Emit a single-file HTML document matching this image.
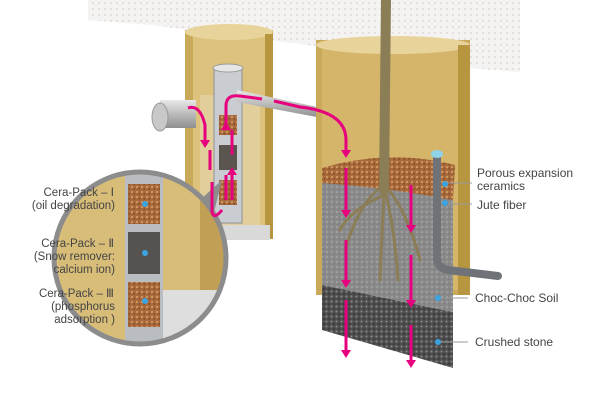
<!DOCTYPE html>
<html><head><meta charset="utf-8"><style>
html,body{margin:0;padding:0;background:#fff;}
svg{display:block;font-family:"Liberation Sans",sans-serif;}
</style></head><body>
<svg width="600" height="420" viewBox="0 0 600 420">
<defs>
<pattern id="grid" width="6" height="6" patternUnits="userSpaceOnUse"><rect width="6" height="6" fill="#f4f3f2"/><circle cx="3" cy="3" r="0.7" fill="#c9c4c1"/></pattern>
<pattern id="gravel" width="5" height="5" patternUnits="userSpaceOnUse"><rect width="5" height="5" fill="#4e4e4e"/><circle cx="1.5" cy="1.5" r="1" fill="#8a8a8a"/><circle cx="4" cy="4" r="0.8" fill="#2a2a2a"/></pattern>
<pattern id="soil" width="5" height="5" patternUnits="userSpaceOnUse"><rect width="5" height="5" fill="#8a8a8a"/><circle cx="2" cy="2" r="0.8" fill="#b5b5b5"/><circle cx="4" cy="4" r="0.6" fill="#6d6d6d"/></pattern>
<pattern id="porous" width="5" height="5" patternUnits="userSpaceOnUse"><rect width="5" height="5" fill="#a9693a"/><circle cx="2" cy="2" r="1" fill="#d8a46c"/><circle cx="4.2" cy="4" r="0.7" fill="#6e3e1e"/></pattern>
<linearGradient id="pipeG" x1="0" y1="0" x2="0" y2="1"><stop offset="0" stop-color="#e8e8e8"/><stop offset="1" stop-color="#8e8e8e"/></linearGradient>
<clipPath id="lens"><circle cx="140" cy="258" r="86"/></clipPath>
</defs>
<polygon points="88,0 520,0 520,72 470,68 300,44 150,25 88,20" fill="url(#grid)"/>
<g>
<rect x="185" y="30" width="88" height="205" fill="#c9a95a"/>
<rect x="193" y="34" width="72" height="200" fill="#dcc27d"/>
<ellipse cx="229" cy="32" rx="44" ry="8" fill="#e8d49b"/>
<rect x="265" y="34" width="8" height="205" fill="#b8963f"/>
<rect x="200" y="95" width="60" height="140" fill="#e2d3a8" opacity="0.7"/>
<rect x="222" y="225" width="48" height="15" fill="#d9d9d9"/>
<rect x="214" y="68" width="28" height="155" fill="#c9ccd0" stroke="#8d9196"/>
<rect x="219" y="115" width="18" height="20" fill="url(#porous)"/>
<rect x="219" y="145" width="18" height="25" fill="#5b554f"/>
<rect x="219" y="180" width="18" height="25" fill="url(#porous)"/>
<ellipse cx="228" cy="68" rx="15" ry="4" fill="#e6e6e6" stroke="#999"/>
</g>
<polygon points="237,90 322,108 322,118 237,102" fill="url(#pipeG)"/>
<ellipse cx="320" cy="113" rx="3" ry="6" fill="#e1c97a"/>
<g>
<rect x="160" y="100" width="36" height="28" fill="url(#pipeG)"/>
<ellipse cx="160" cy="117" rx="8" ry="14" fill="#c8c8c8" stroke="#999"/>
</g>
<g>
<rect x="316" y="40" width="154" height="255" fill="#c9a95a"/>
<rect x="322" y="45" width="138" height="245" fill="#d4b56a"/>
<ellipse cx="393" cy="45" rx="77" ry="9" fill="#e8d49b"/>
<rect x="458" y="45" width="12" height="250" fill="#b8963f"/>
<polygon points="322,285 453,312 453,368 322,330" fill="url(#gravel)"/>
<polygon points="322,180 453,180 453,312 322,285" fill="url(#soil)"/>
<path d="M322,168 Q390,148 455,165 L453,200 Q390,188 322,183 Z" fill="url(#porous)"/>
</g>
<g fill="none" stroke="#8b7d55" stroke-linecap="round">
<path d="M386,0 L384,190" stroke-width="10"/>
<path d="M384,185 Q360,200 345,250 M384,185 Q405,205 420,260 M384,190 L380,280 M385,190 Q395,230 398,280 M384,195 Q350,210 340,230" stroke-width="3"/>
</g>
<g fill="none" stroke-linecap="round">
<path d="M437,158 L437,258 Q437,268 448,270 L498,276" stroke="#6f7378" stroke-width="8"/>
<ellipse cx="437" cy="154" rx="6" ry="4" fill="#8fd3e8"/>
</g>
<g>
<g clip-path="url(#lens)">
<rect x="50" y="170" width="190" height="180" fill="#d8bd78"/>
<rect x="200" y="170" width="40" height="180" fill="#c1a055"/>
<rect x="150" y="290" width="100" height="60" fill="#dedede"/>
<rect x="125" y="170" width="38" height="180" fill="#b9bcc0"/>
<rect x="128" y="184" width="32" height="40" fill="url(#porous)"/>
<rect x="128" y="232" width="32" height="42" fill="#55524f"/>
<rect x="128" y="282" width="32" height="45" fill="url(#porous)"/>
</g>
<circle cx="140" cy="258" r="86" fill="none" stroke="#8c8c8c" stroke-width="5"/>
<polygon points="200,200 222,180 214,212" fill="#8c8c8c"/>
</g>
<g fill="none" stroke="#e6007e" stroke-width="3">
<path d="M188,108 Q200,104 205,125 L205,140"/><path d="M210,150 L210,170 M212,182 L212,212 Q214,220 222,210"/>
<path d="M226,130 L226,106 Q226,94 240,96 L262,99 M274,101 L300,107 Q346,112 346,140 L346,150"/>
<path d="M226,200 L226,175 M232,200 L232,175 M232,155 L232,130"/>
<path d="M346,168 L346,210 M346,240 L346,280 M346,300 L346,350"/>
<path d="M411,185 L411,225 M411,255 L411,300 M411,325 L411,360"/>
</g>
<g fill="#e6007e">
<polygon points="341,150 351,150 346,158"/><polygon points="341,210 351,210 346,218"/><polygon points="341,280 351,280 346,288"/><polygon points="341,350 351,350 346,358"/>
<polygon points="406,225 416,225 411,233"/><polygon points="406,300 416,300 411,308"/><polygon points="406,360 416,360 411,368"/>
<polygon points="200,140 210,140 205,148"/><polygon points="221,130 231,130 226,122"/><polygon points="227,175 237,175 232,167"/>
</g>
<g fill="#3aa3e0">
<circle cx="145" cy="204" r="3"/><circle cx="145" cy="253" r="3"/><circle cx="145" cy="301" r="3"/>
<circle cx="445" cy="184" r="3"/><circle cx="445" cy="203" r="3"/><circle cx="438" cy="298" r="3"/><circle cx="438" cy="342" r="3"/>
</g>
<g stroke="#999" stroke-width="1">
<line x1="448" y1="183" x2="472" y2="183"/><line x1="448" y1="204" x2="472" y2="204"/><line x1="441" y1="298" x2="468" y2="298"/><line x1="441" y1="342" x2="468" y2="342"/>
</g>
<g font-size="12" fill="#444">
<text x="477" y="177">Porous expansion</text>
<text x="477" y="190">ceramics</text>
<text x="477" y="209">Jute fiber</text>
<text x="475" y="302">Choc-Choc Soil</text>
<text x="475" y="346">Crushed stone</text>
</g>
<g font-size="11.5" fill="#444" text-anchor="end">
<text x="114" y="196">Cera-Pack – Ⅰ</text>
<text x="115" y="209">(oil degradation)</text>
<text x="114" y="247">Cera-Pack – Ⅱ</text>
<text x="115" y="260">(Snow remover:</text>
<text x="115" y="273">calcium ion)</text>
<text x="114" y="297">Cera-Pack – Ⅲ</text>
<text x="115" y="310">(phosphorus</text>
<text x="115" y="323">adsorption )</text>
</g>
</svg>
</body></html>
